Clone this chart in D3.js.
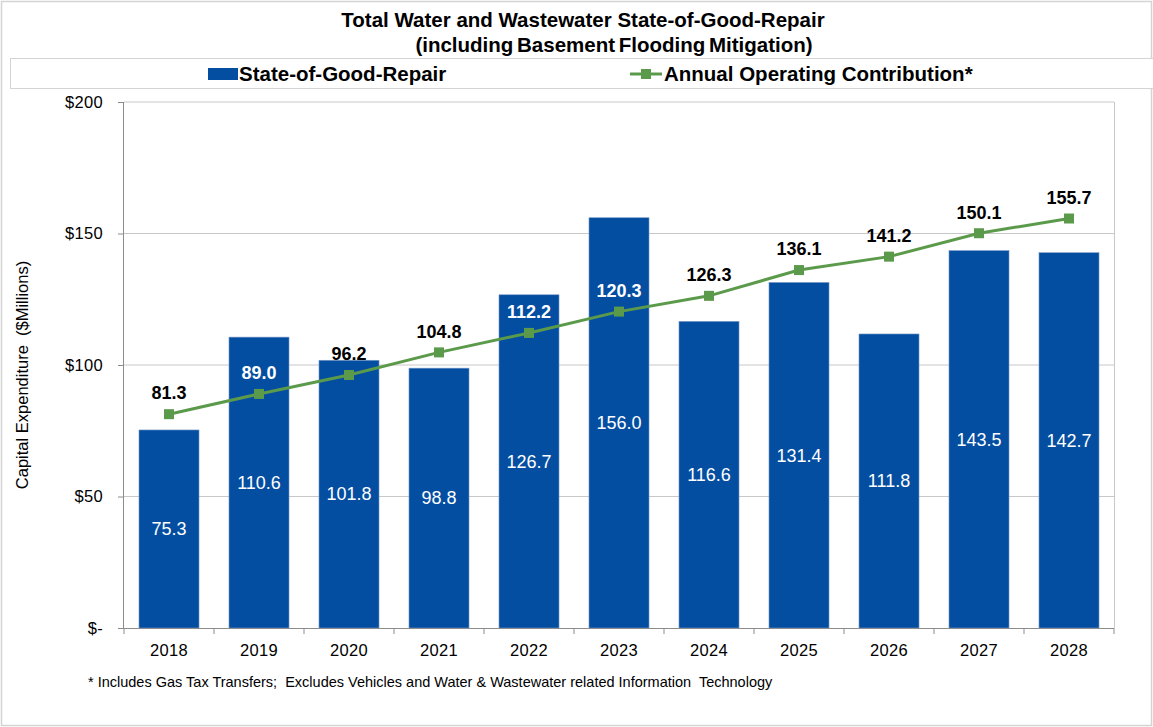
<!DOCTYPE html>
<html><head><meta charset="utf-8">
<script src="https://cdn.jsdelivr.net/npm/d3@7"></script>
<style>body{margin:0;background:#fff;} text{font-family:"Liberation Sans",Arial,sans-serif;white-space:pre;}</style>
</head><body>
<svg id="chart" width="1153" height="727"></svg>
<script>
const years = ["2018","2019","2020","2021","2022","2023","2024","2025","2026","2027","2028"];
const sogr = [75.3,110.6,101.8,98.8,126.7,156.0,116.6,131.4,111.8,143.5,142.7];
const contribution = [81.3,89.0,96.2,104.8,112.2,120.3,126.3,136.1,141.2,150.1,155.7];
const yTicks = [0,50,100,150,200];
const yTickLabels = ["$-","$50","$100","$150","$200"];

const svg = d3.select("#chart");
const W = 1153, H = 727;
const m = {left:124, right:1114, top:102, bottom:628};
const barColor = "#044ea2", lineColor = "#5b9a4b";

svg.append("rect").attr("x",1.5).attr("y",1.5).attr("width",W-3).attr("height",H-3)
  .attr("fill","#fff").attr("stroke","#d4d4d4").attr("stroke-width",1.5);

const x = d3.scaleBand().domain(years).range([m.left,m.right]).paddingInner(0.333).paddingOuter(0.1665);
const y = d3.scaleLinear().domain([0,200]).range([m.bottom,m.top]);

// gridlines
svg.append("g").selectAll("line").data(yTicks.filter(d=>d>0)).join("line")
  .attr("x1",m.left).attr("x2",m.right).attr("y1",d=>y(d)).attr("y2",d=>y(d))
  .attr("stroke","#c8c8c8").attr("stroke-width",1);
svg.append("line").attr("x1",m.right+0.5).attr("x2",m.right+0.5).attr("y1",m.top).attr("y2",m.bottom)
  .attr("stroke","#c8c8c8");

// bars
svg.append("g").selectAll("rect").data(sogr).join("rect")
  .attr("x",(d,i)=>x(years[i])).attr("width",x.bandwidth())
  .attr("y",d=>y(d)).attr("height",d=>y(0)-y(d))
  .attr("fill",barColor).attr("stroke","#7e9cc8").attr("stroke-width",0.6);

// bar labels
svg.append("g").selectAll("text").data(sogr).join("text")
  .attr("x",(d,i)=>x(years[i])+x.bandwidth()/2).attr("y",d=>(y(d)+y(0))/2)
  .attr("dy","0.35em").attr("text-anchor","middle").attr("fill","#fff")
  .attr("font-size",18).text(d=>d.toFixed(1));

// axes
const gx = svg.append("g").attr("transform",`translate(0,${m.bottom})`);
gx.append("line").attr("x1",m.left).attr("x2",m.right).attr("y1",0.5).attr("y2",0.5).attr("stroke","#8c8c8c");
const bounds = d3.range(years.length+1).map(i=>m.left + i*(m.right-m.left)/years.length);
gx.selectAll(".tk").data(bounds).join("line").attr("class","tk")
  .attr("x1",d=>d).attr("x2",d=>d).attr("y1",0).attr("y2",6).attr("stroke","#8c8c8c");
gx.selectAll("text").data(years).join("text")
  .attr("x",d=>x(d)+x.bandwidth()/2).attr("y",28).attr("text-anchor","middle")
  .attr("font-size",16.5).attr("letter-spacing",0.3).attr("fill","#000").text(d=>d);

const gy = svg.append("g");
gy.append("line").attr("x1",m.left-0.5).attr("x2",m.left-0.5).attr("y1",m.top).attr("y2",m.bottom).attr("stroke","#8c8c8c");
gy.selectAll(".tk").data(yTicks).join("line").attr("class","tk")
  .attr("x1",m.left-6).attr("x2",m.left).attr("y1",d=>y(d)+0.5).attr("y2",d=>y(d)+0.5).attr("stroke","#8c8c8c");
gy.selectAll("text").data(yTicks).join("text")
  .attr("x",m.left-21).attr("y",d=>y(d)).attr("dy","0.35em").attr("text-anchor","end")
  .attr("font-size",16.5).attr("letter-spacing",0.3).attr("fill","#000").text((d,i)=>yTickLabels[i]);

svg.append("text").attr("transform",`translate(28,${(m.top+m.bottom)/2+10}) rotate(-90)`)
  .attr("text-anchor","middle").attr("font-size",16.5).text("Capital Expenditure  ($Millions)");

// line
const cx = (d,i)=>x(years[i])+x.bandwidth()/2;
svg.append("path").datum(contribution)
  .attr("d",d3.line().x(cx).y(d=>y(d)))
  .attr("fill","none").attr("stroke",lineColor).attr("stroke-width",3);
svg.append("g").selectAll("rect").data(contribution).join("rect")
  .attr("x",(d,i)=>cx(d,i)-5).attr("y",d=>y(d)-5).attr("width",10).attr("height",10)
  .attr("fill",lineColor);
svg.append("g").selectAll("text").data(contribution).join("text")
  .attr("x",cx).attr("y",d=>y(d)-21).attr("dy","0.35em").attr("text-anchor","middle")
  .attr("font-size",18).attr("font-weight","bold")
  .attr("fill",(d,i)=> (y(d)-21 > y(sogr[i])+8) ? "#fff" : "#000")
  .text(d=>d.toFixed(1));

// titles
svg.append("text").attr("x",583).attr("y",27).attr("text-anchor","middle")
  .attr("font-size",20.5).attr("font-weight","bold").text("Total Water and Wastewater State-of-Good-Repair");
svg.append("text").attr("x",614).attr("y",52).attr("text-anchor","middle")
  .attr("font-size",20.5).attr("font-weight","bold").attr("word-spacing",-2)
  .text("(including Basement Flooding Mitigation)");

// legend
svg.append("rect").attr("x",10.5).attr("y",58.5).attr("width",1150).attr("height",30)
  .attr("fill","#fff").attr("stroke","#d4d4d4");
svg.append("rect").attr("x",208).attr("y",68).attr("width",30).attr("height",12).attr("fill",barColor);
svg.append("text").attr("x",239).attr("y",81).attr("font-size",20.5).attr("font-weight","bold").text("State-of-Good-Repair");
svg.append("line").attr("x1",630).attr("x2",662).attr("y1",74).attr("y2",74).attr("stroke",lineColor).attr("stroke-width",3);
svg.append("rect").attr("x",641).attr("y",69).attr("width",10).attr("height",10).attr("fill",lineColor);
svg.append("text").attr("x",664).attr("y",81).attr("font-size",20.5).attr("font-weight","bold").text("Annual Operating Contribution*");

// footnote
svg.append("text").attr("x",88).attr("y",687).attr("font-size",14.5)
  .text("* Includes Gas Tax Transfers;  Excludes Vehicles and Water & Wastewater related Information  Technology");
</script>
</body></html>
